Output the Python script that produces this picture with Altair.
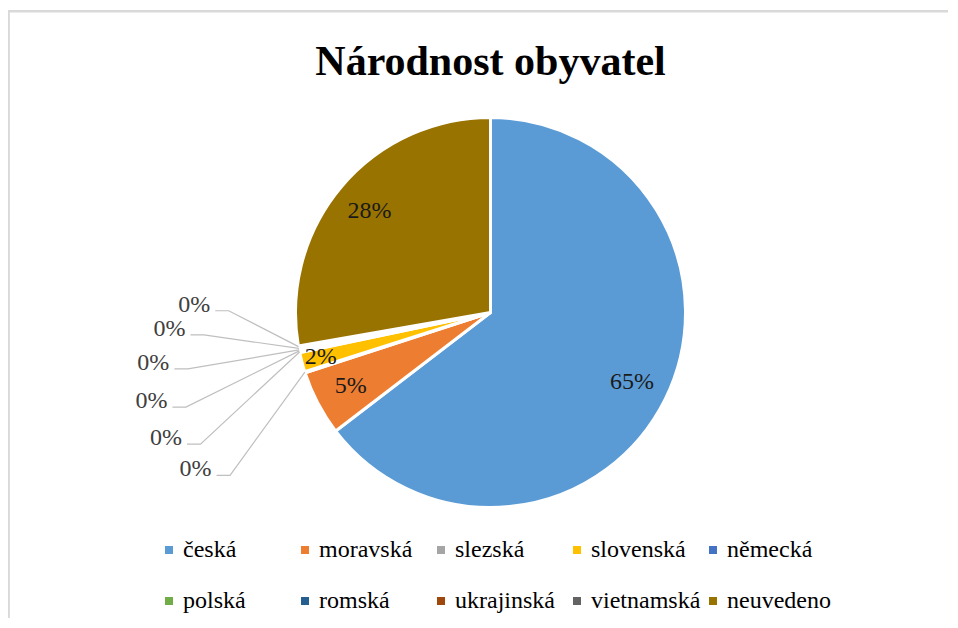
import math
import altair as alt
import pandas as pd

# ---- data ----
categories = ["česká", "moravská", "slezská", "slovenská", "německá",
              "polská", "romská", "ukrajinská", "vietnamská", "neuvedeno"]
shares = [64.6, 5.4, 0.1, 1.6, 0.1, 0.1, 0.05, 0.2, 0.1, 27.75]
colors = ["#5B9BD5", "#ED7D31", "#A5A5A5", "#FFC000", "#4472C4",
          "#70AD47", "#255E91", "#9E480E", "#636363", "#997300"]
title_text = "Národnost obyvatel"

# ---- layout ----
W, H = 940, 610
CX, CY, R = 482.5, 304.5, 195.0
FONT = "Liberation Serif"

total = sum(shares)
df = pd.DataFrame({"cat": categories, "value": shares, "idx": list(range(len(categories)))})
df["label"] = [f"{round(v / total * 100)}%" for v in shares]
cum = df["value"].cumsum()
df["a0"] = (cum - df["value"]) / total * 2 * math.pi
df["a1"] = cum / total * 2 * math.pi
df["amid"] = (df["a0"] + df["a1"]) / 2
df["frac"] = df["value"] / total

# labels inside / near slices
inside = df[df["frac"] >= 0.01].copy()
inside["r"] = [0.81 if f >= 0.03 else 0.9 for f in inside["frac"]]
inside["lx"] = inside["r"] * inside["amid"].apply(math.sin)
inside["ly"] = inside["r"] * inside["amid"].apply(math.cos)

# leader-line labels for tiny slices (stacked on the left)
small = df[df["frac"] < 0.01].sort_values("idx", ascending=False).reset_index(drop=True)
n_small = len(small)
lab_rows, line_rows = [], []
for i, row in small.iterrows():
    t = i / (n_small - 1)
    ang = math.radians(271.5 - 29.5 * t ** 1.18)
    rad = 1.52 + 0.28 * math.sin(math.pi * i / 6.6)
    lx, ly = rad * math.sin(ang), rad * math.cos(ang)
    lab_rows.append({"cat": row["cat"], "label": row["label"], "lx": lx, "ly": ly})
    ex, ey = math.sin(row["amid"]), math.cos(row["amid"])
    pts = [(lx + 21 / R, ly - 6 / R), (lx + 34.5 / R, ly - 6 / R), (ex, ey)]
    for k, (px, py) in enumerate(pts):
        line_rows.append({"cat": row["cat"], "pt": k, "px": px, "py": py})
leader_labels = pd.DataFrame(lab_rows)
leader_lines = pd.DataFrame(line_rows)

xs = alt.Scale(domain=[-CX / R, (W - CX) / R], nice=False, zero=False)
ys = alt.Scale(domain=[(CY - H) / R, CY / R], nice=False, zero=False)

one = pd.DataFrame({"a": [0]})

frame_top = alt.Chart(one).mark_rule(color="#D9D9D9", strokeWidth=2.5).encode(
    x=alt.value(0), x2=alt.value(W), y=alt.value(3.2))
frame_left = alt.Chart(one).mark_rule(color="#D9D9D9", strokeWidth=2.5).encode(
    x=alt.value(0.6), y=alt.value(2), y2=alt.value(H))

arcs = alt.Chart(df).mark_arc(radius=R, stroke="white", strokeWidth=3).encode(
    theta=alt.Theta("value:Q", stack=True),
    order=alt.Order("idx:Q"),
    color=alt.Color(
        "cat:N",
        scale=alt.Scale(domain=categories, range=colors),
        legend=alt.Legend(
            title=None, orient="none", legendX=149, legendY=530,
            direction="horizontal",
            columns=5, gridAlign="all", symbolType="square", symbolSize=64,
            symbolStrokeWidth=0, labelFont=FONT, labelFontSize=24,
            labelColor="black", labelOffset=2, columnPadding=-6,
            rowPadding=27, padding=0,
        ),
    ),
    x=alt.value(CX), y=alt.value(CY),
)

inside_text = alt.Chart(inside).mark_text(font=FONT, fontSize=24, color="#1a1a1a").encode(
    x=alt.X("lx:Q", scale=xs, axis=None),
    y=alt.Y("ly:Q", scale=ys, axis=None),
    text="label:N",
)

lines = alt.Chart(leader_lines).mark_line(color="#BFBFBF", strokeWidth=1.2).encode(
    x=alt.X("px:Q", scale=xs, axis=None),
    y=alt.Y("py:Q", scale=ys, axis=None),
    detail="cat:N",
    order="pt:Q",
)

leader_text = alt.Chart(leader_labels).mark_text(font=FONT, fontSize=24, color="#404040").encode(
    x=alt.X("lx:Q", scale=xs, axis=None),
    y=alt.Y("ly:Q", scale=ys, axis=None),
    text="label:N",
)

title = alt.Chart(one).mark_text(
    font=FONT, fontSize=42, fontWeight="bold", color="black", baseline="alphabetic"
).encode(x=alt.value(CX), y=alt.value(67), text=alt.value(title_text))

chart = alt.layer(
    frame_top, frame_left, arcs, lines, inside_text, leader_text, title
).properties(
    width=W, height=H, autosize=alt.AutoSizeParams(type="none"), padding=0
).configure_view(stroke=None)

chart.save("out.html", embed_options={"renderer": "svg", "actions": False})
